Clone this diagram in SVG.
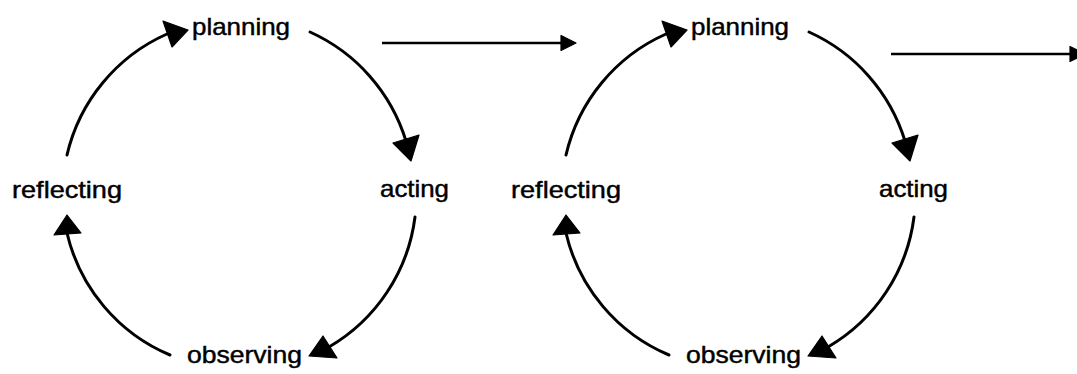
<svg xmlns="http://www.w3.org/2000/svg" width="1077" height="374" viewBox="0 0 1077 374">
<style>
.lbl{font-family:"Liberation Sans",Arial,sans-serif;font-size:24px;fill:#000;stroke:#000;stroke-width:0.45}
.arc{fill:none;stroke:#000;stroke-width:3;stroke-linecap:round}
.ln{fill:none;stroke:#000;stroke-width:2.6}
.head{fill:#000;stroke:#000;stroke-width:1.2;stroke-linejoin:round}
</style>
<rect width="1077" height="374" fill="#fff"/>
<g id="cycle1">
  <g id="planning1"><text class="lbl" x="192" y="35" textLength="98" lengthAdjust="spacingAndGlyphs">planning</text></g>
  <g id="acting1"><text class="lbl" x="380" y="197" textLength="69" lengthAdjust="spacingAndGlyphs">acting</text></g>
  <g id="observing1"><text class="lbl" x="187" y="363" textLength="115" lengthAdjust="spacingAndGlyphs">observing</text></g>
  <g id="reflecting1"><text class="lbl" x="12" y="198" textLength="110" lengthAdjust="spacingAndGlyphs">reflecting</text></g>
</g>
<g id="cycle2" transform="translate(499,0)">
  <g id="planning2"><text class="lbl" x="192" y="35" textLength="98" lengthAdjust="spacingAndGlyphs">planning</text></g>
  <g id="acting2"><text class="lbl" x="380" y="197" textLength="69" lengthAdjust="spacingAndGlyphs">acting</text></g>
  <g id="observing2"><text class="lbl" x="187" y="363" textLength="115" lengthAdjust="spacingAndGlyphs">observing</text></g>
  <g id="reflecting2"><text class="lbl" x="12" y="198" textLength="110" lengthAdjust="spacingAndGlyphs">reflecting</text></g>
</g>
<g id="connectors">
  <g id="loop1">
    <path class="arc" d="M67,155 A176,176 0 0,1 167,34"/>
    <polygon class="head" points="188,30 163,21 172,47"/>
    <path class="arc" d="M310,32 A176,176 0 0,1 406,141"/>
    <polygon class="head" points="411,161 393,143 419,135"/>
    <path class="arc" d="M415,217 A176,176 0 0,1 329,347"/>
    <polygon class="head" points="309,356 323,336 337,358"/>
    <path class="arc" d="M170,355 A176,176 0 0,1 67,233"/>
    <polygon class="head" points="67,215 54,235 81,233"/>
  </g>
  <g id="loop2" transform="translate(499,0)">
    <path class="arc" d="M67,155 A176,176 0 0,1 167,34"/>
    <polygon class="head" points="188,30 163,21 172,47"/>
    <path class="arc" d="M310,32 A176,176 0 0,1 406,141"/>
    <polygon class="head" points="411,161 393,143 419,135"/>
    <path class="arc" d="M415,217 A176,176 0 0,1 329,347"/>
    <polygon class="head" points="309,356 323,336 337,358"/>
    <path class="arc" d="M170,355 A176,176 0 0,1 67,233"/>
    <polygon class="head" points="67,215 54,235 81,233"/>
  </g>
  <g id="next1">
    <line class="ln" x1="382" y1="43" x2="562" y2="43"/>
    <polygon class="head" points="576,43 561,35.5 561,50.5"/>
  </g>
  <g id="next2">
    <line class="ln" x1="891" y1="54" x2="1071" y2="54"/>
    <polygon class="head" points="1085,54 1070,46.5 1070,61.5"/>
  </g>
</g>
</svg>
